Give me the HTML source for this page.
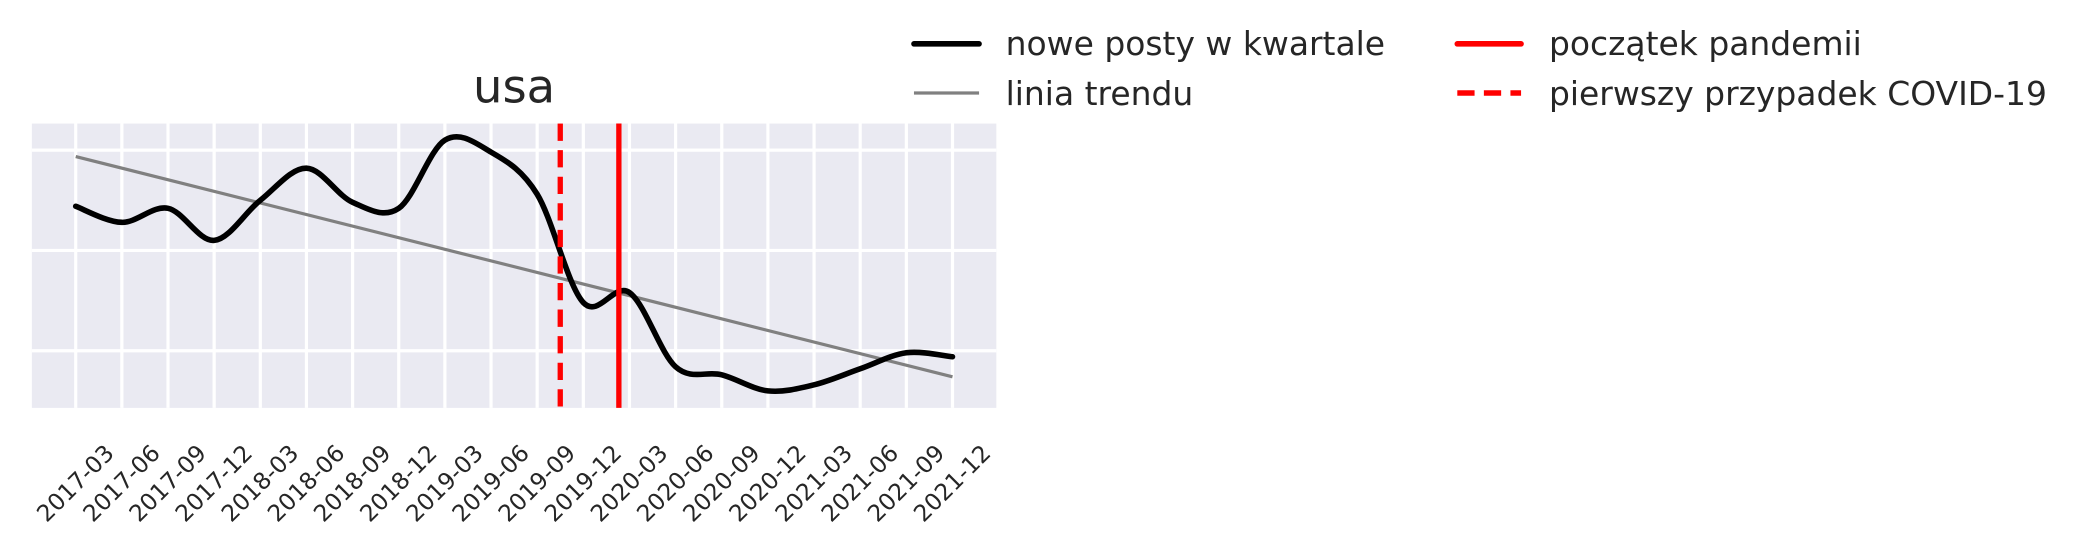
<!DOCTYPE html>
<html><head><meta charset="utf-8"><style>
html,body{margin:0;padding:0;background:#fff;}
svg{display:block;font-family:"DejaVu Sans","Liberation Sans",sans-serif;}
</style></head>
<body>
<svg id="chart" width="2083" height="558" viewBox="0 0 1568 420" preserveAspectRatio="none" xmlns="http://www.w3.org/2000/svg">
  <rect x="24" y="93" width="726" height="214" fill="#eaeaf2"/>
  <g id="grid"></g>
  <g id="marks"></g>
  <g id="xticks"></g>
  <text x="387" y="77" font-size="35" text-anchor="middle" fill="#262626">usa</text>
  <g>
    <g>
      <line x1="688" y1="33" x2="737" y2="33" stroke="#000" stroke-width="4.2" stroke-linecap="round"/>
      <text x="757" y="41.5" font-size="24.8" fill="#262626">nowe posty w kwartale</text>
    </g>
    <g>
      <line x1="688" y1="70" x2="737" y2="70" stroke="#808080" stroke-width="2.4"/>
      <text x="757" y="79" font-size="24.8" fill="#262626">linia trendu</text>
    </g>
    <g>
      <line x1="1097" y1="33" x2="1145" y2="33" stroke="#ff0000" stroke-width="4.2" stroke-linecap="round"/>
      <text x="1166" y="41.5" font-size="24.8" fill="#262626">początek pandemii</text>
    </g>
    <g>
      <line x1="1097" y1="70" x2="1145" y2="70" stroke="#ff0000" stroke-width="4.2" stroke-dasharray="13,7"/>
      <text x="1166" y="79" font-size="24.8" fill="#262626">pierwszy przypadek COVID-19</text>
    </g>
  </g>
</svg>
<script>
const categories = ["2017-03","2017-06","2017-09","2017-12","2018-03","2018-06","2018-09","2018-12","2019-03","2019-06","2019-09","2019-12","2020-03","2020-06","2020-09","2020-12","2021-03","2021-06","2021-09","2021-12"];
const posts = [172,164,171,155,175,191,174,171,205,199,178,124,129,92,88,80,83,91,99,97];
const yGridValues = [100,150,200];
const firstCaseIndex = 10.5;
const pandemicStartIndex = 11.77;

const NS = "http://www.w3.org/2000/svg";
const PL = 24, PR = 750, PT = 93, PB = 307;
function xs(i){ return 57 + i * (717 - 57) / (categories.length - 1); }
function ys(v){ return 264 - (v - 100) * 75.5 / 50; }
function mk(tag, attrs, parent){
  const e = document.createElementNS(NS, tag);
  for (const k in attrs) e.setAttribute(k, attrs[k]);
  parent.appendChild(e);
  return e;
}
const grid = document.getElementById('grid');
const marks = document.getElementById('marks');
const xt = document.getElementById('xticks');

categories.forEach((c, i) => {
  const l = mk('line', {x1: xs(i), x2: xs(i), y1: PT, y2: PB, stroke: '#fff', 'stroke-width': 2.4}, grid);
  
  
  const x = xs(i);
  const t = mk('text', {x: x, y: 364, 'font-size': 17.5, fill: '#262626', 'text-anchor': 'middle', 'dominant-baseline': 'central', transform: `rotate(-45 ${x} 364)`}, xt);
  t.textContent = c;
  
  
});
yGridValues.forEach(v => {
  const l = mk('line', {x1: PL, x2: PR, y1: ys(v), y2: ys(v), stroke: '#fff', 'stroke-width': 2.4}, grid);
  
  
});

const n = posts.length;
const mi = (n - 1) / 2;
const mv = posts.reduce((a, b) => a + b, 0) / n;
let sxy = 0, sxx = 0;
posts.forEach((v, i) => { sxy += (i - mi) * (v - mv); sxx += (i - mi) * (i - mi); });
const slope = sxy / sxx;
const trend = mk('line', {x1: xs(0), y1: ys(mv + slope * (0 - mi)), x2: xs(n - 1), y2: ys(mv + slope * (n - 1 - mi)), stroke: '#808080', 'stroke-width': 2.4}, marks);



const pts = posts.map((v, i) => [xs(i), ys(v)]);
let d = `M${pts[0][0]},${pts[0][1]}`;
for (let i = 0; i < pts.length - 1; i++) {
  const p0 = pts[Math.max(0, i - 1)], p1 = pts[i], p2 = pts[i + 1], p3 = pts[Math.min(pts.length - 1, i + 2)];
  const c1 = [p1[0] + (p2[0] - p0[0]) / 6, p1[1] + (p2[1] - p0[1]) / 6];
  const c2 = [p2[0] - (p3[0] - p1[0]) / 6, p2[1] - (p3[1] - p1[1]) / 6];
  d += ` C${c1[0]},${c1[1]} ${c2[0]},${c2[1]} ${p2[0]},${p2[1]}`;
}
const curve = mk('path', {d: d, fill: 'none', stroke: '#000', 'stroke-width': 4.2, 'stroke-linecap': 'round', 'stroke-linejoin': 'round'}, marks);



const fc = mk('line', {x1: xs(firstCaseIndex), x2: xs(firstCaseIndex), y1: PT, y2: PB, stroke: '#ff0000', 'stroke-width': 4, 'stroke-dasharray': '13,7'}, marks);


const ps = mk('line', {x1: xs(pandemicStartIndex), x2: xs(pandemicStartIndex), y1: PT, y2: PB, stroke: '#ff0000', 'stroke-width': 4}, marks);


</script>
</body></html>
